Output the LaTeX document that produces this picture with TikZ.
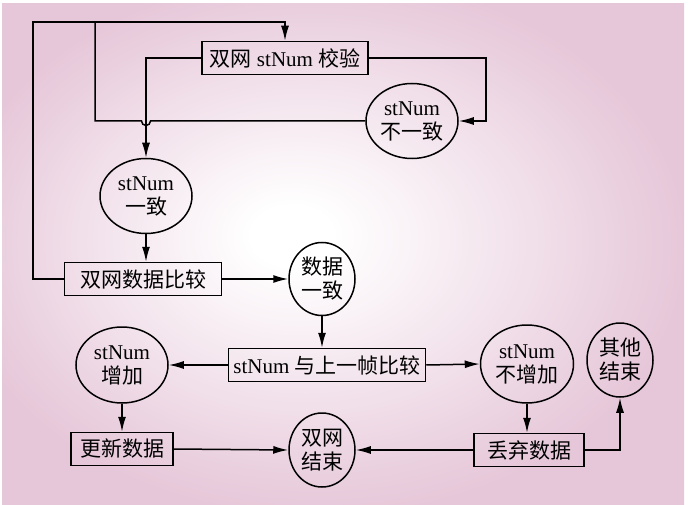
\documentclass[tikz,border=0pt]{standalone}
\usepackage{fontspec}
\setmainfont{Liberation Serif}
\newfontfamily\cjk{Noto Sans CJK SC}
\usetikzlibrary{arrows.meta,shapes.geometric}
\definecolor{bgpink}{RGB}{230,199,217}
\pgfdeclareradialshading{bgshade}{\pgfpoint{-4bp}{2bp}}{color(0bp)=(white);color(3bp)=(white);color(27bp)=(bgpink);color(50bp)=(bgpink)}
\newcommand{\zh}[1]{{\cjk #1}}
\begin{document}
\begin{tikzpicture}[x=1pt,y=-1pt,
  every node/.style={font=\fontsize{21}{24}\selectfont},
  box/.style={draw,line width=1.5pt,inner sep=0pt,minimum height=33pt},
  oval/.style={draw,ellipse,line width=1.5pt,inner sep=0pt,align=center},
  arr/.style={-{Latex[length=15pt,width=8pt]},line width=1.5pt}]
 \useasboundingbox (0,0) rectangle (690,505);
 \shade[shading=bgshade] (2,4) rectangle (684,505);
 \node[box,minimum width=166pt] (chk) at (285,58) {\zh{双网} stNum \zh{校验}};
 \node[oval,minimum width=92pt,minimum height=75pt] (neq) at (412,121) {stNum\\\zh{不一致}};
 \node[oval,minimum width=92pt,minimum height=75pt] (eq) at (146,196) {stNum\\\zh{一致}};
 \node[box,minimum width=157pt] (cmp) at (143,279) {\zh{双网数据比较}};
 \node[oval,minimum width=66pt,minimum height=73pt] (deq) at (322,279) {\zh{数据}\\\zh{一致}};
 \node[box,minimum width=197pt] (frm) at (327,365) {stNum \zh{与上一帧比较}};
 \node[oval,minimum width=92pt,minimum height=76pt] (inc) at (122,365) {stNum\\\zh{增加}};
 \node[oval,minimum width=93pt,minimum height=78pt] (ninc) at (527,364) {stNum\\\zh{不增加}};
 \node[oval,minimum width=66pt,minimum height=74pt] (oend) at (620,360) {\zh{其他}\\\zh{结束}};
 \node[box,minimum width=102pt] (upd) at (122,449) {\zh{更新数据}};
 \node[oval,minimum width=66pt,minimum height=74pt] (dend) at (322,450) {\zh{双网}\\\zh{结束}};
 \node[box,minimum width=110pt] (drop) at (529,450) {\zh{丢弃数据}};
 \coordinate (top) at (33,22);
 \coordinate (mid) at (95,22);
 \coordinate (rgt) at (486,58);
 \draw[arr] (cmp.west) -| (top) -| (chk.north);
 \draw[line width=1.5pt] (neq.west) -- (150.5,121) arc[start angle=0,end angle=-180,radius=4.5pt] -- (mid |- neq.west) -- (mid);
 \draw[arr] (chk.west) -| (eq.north);
 \draw[arr] (chk.east) -- (rgt) |- (neq.east);
 \draw[arr] (eq.south) -- (eq.south |- cmp.north);
 \draw[arr] (cmp.east) -- (deq.west);
 \draw[arr] (deq.south) -- (deq.south |- frm.north);
 \draw[arr] (frm.west) -- (inc.east);
 \draw[arr] (frm.east) -- (ninc.west);
 \draw[arr] (inc.south) -- (inc.south |- upd.north);
 \draw[arr] (ninc.south) -- (ninc.south |- drop.north);
 \draw[arr] (upd.east) -- (dend.west);
 \draw[arr] (drop.west) -- (dend.east);
 \draw[arr] (drop.east) -| (oend.south);
\end{tikzpicture}
\end{document}
